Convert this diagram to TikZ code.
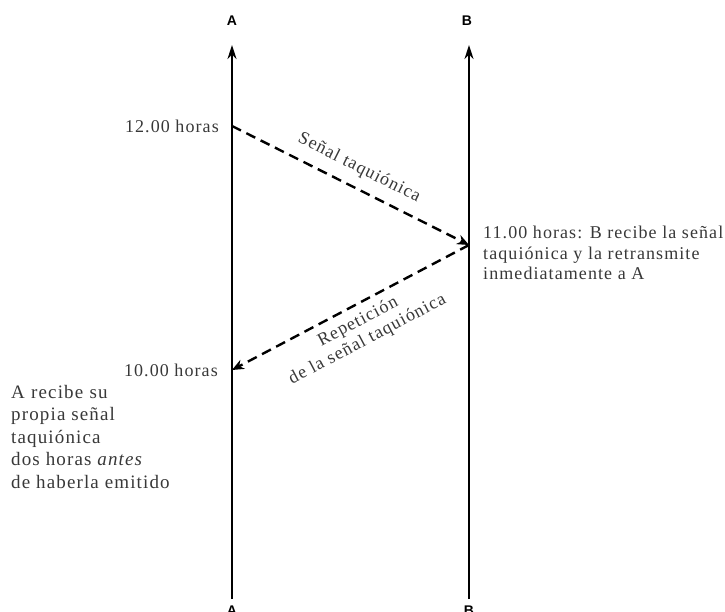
\documentclass[tikz,border=0pt]{standalone}
\usepackage{fontspec}
\setmainfont[LetterSpace=6]{Liberation Serif}
\setsansfont{Liberation Sans}
\usetikzlibrary{arrows.meta}
\definecolor{txt}{HTML}{383838}
\begin{document}
\begin{tikzpicture}[x=1pt,y=-1pt,
  world/.style={line width=2pt,-{Stealth[length=14pt,width=9pt]}},
  signal/.style={line width=2.4pt,dash pattern=on 10pt off 6pt,-{Stealth[length=12pt,width=10pt]}},
  lab/.style={text=txt,font=\fontsize{18}{20}\selectfont,inner sep=0pt},
  axlab/.style={font=\sffamily\bfseries\fontsize{14}{16}\selectfont,inner sep=0pt},
  para/.style={lab,align=left,anchor=north west}]
\useasboundingbox (0,0) rectangle (725,612);
\coordinate (A0) at (232,599);
\coordinate (A1) at (232,45);
\coordinate (B0) at (469,599);
\coordinate (B1) at (469,45);
\coordinate (e12) at (232,126);
\coordinate (b11) at (469,245);
\coordinate (a10) at (232,370);
\draw[world] (A0) -- (A1);
\draw[world] (B0) -- (B1);
\node[axlab] (lA) at (232,21) {A};
\node[axlab] (lB) at (467,21) {B};
\node[axlab] (lA2) at (232,611) {A};
\node[axlab] (lB2) at (469,611) {B};
\draw[signal] (e12) -- (b11) node[lab,midway,sloped,above=10pt] {Señal taquiónica};
\draw[signal] (b11) -- (a10) node[lab,midway,sloped,below=7pt,align=center] {Repetición\\de la señal taquiónica};
\node[lab,anchor=east] (t12) at (219,126) {12.00 horas};
\node[lab,anchor=east] (t10) at (218,370) {10.00 horas};
\node[para,font=\fontsize{18}{20.5}\selectfont] (tB) at (483,226) {11.00 horas: B recibe la señal\\taquiónica y la retransmite\\inmediatamente a A};
\node[para,font=\fontsize{19}{22.5}\selectfont] (tA) at (11,385) {\spaceskip=0.33em plus 0.1em A recibe su\\propia señal\\taquiónica\\dos horas \textit{antes}\\de haberla emitido};
\end{tikzpicture}
\end{document}
